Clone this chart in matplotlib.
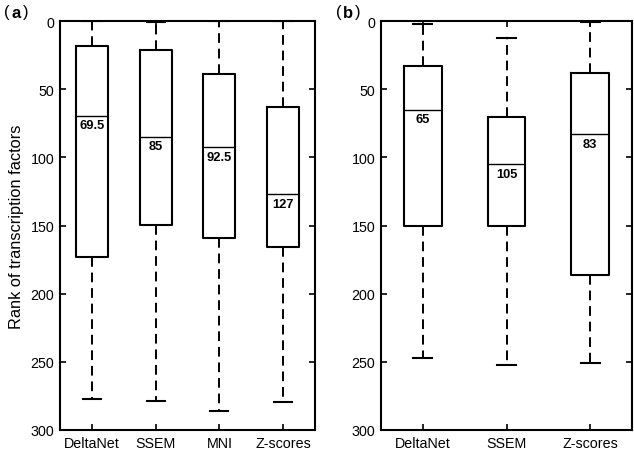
import matplotlib.pyplot as plt

plt.rcParams["font.family"] = ["Liberation Sans", "DejaVu Sans"]

# Panel (a)
labels_a = ["DeltaNet", "SSEM", "MNI", "Z-scores"]
whislo_a = [0, 1, 0, 0]
q1_a = [18.5, 21, 39, 63]
med_a = [69.5, 85, 92.5, 127]
q3_a = [173, 149.5, 159, 166]
whishi_a = [277, 278.5, 286, 279.5]

# Panel (b)
labels_b = ["DeltaNet", "SSEM", "Z-scores"]
whislo_b = [2, 12.5, 0.5]
q1_b = [33, 70.5, 38]
med_b = [65, 105, 83]
q3_b = [150, 150, 186]
whishi_b = [247, 252, 251]


def draw(ax, labels, lo, q1, med, q3, hi, width, capw):
    stats = [dict(whislo=a, q1=b, med=c, q3=d, whishi=e, fliers=[], label=l)
             for l, a, b, c, d, e in zip(labels, lo, q1, med, q3, hi)]
    pos = list(range(1, len(labels) + 1))
    ax.bxp(stats, positions=pos, widths=width, capwidths=capw,
           showfliers=False,
           boxprops=dict(color="black", linewidth=1.5),
           medianprops=dict(color="black", linewidth=1.0),
           whiskerprops=dict(color="black", linewidth=1.4, linestyle=(0, (5, 3))),
           capprops=dict(color="black", linewidth=1.5))
    for p, m in zip(pos, med):
        ax.text(p, m + 2.5, f"{m:g}", ha="center", va="top", fontsize=9.3,
                fontweight="bold")
    ax.set_ylim(300, 0)
    ax.set_xlim(0.5, len(labels) + 0.5)
    ax.set_yticks([0, 50, 100, 150, 200, 250, 300])
    ax.tick_params(direction="in", top=True, right=True, labelsize=10.3,
                   length=4, width=1.2, pad=4)
    for s in ax.spines.values():
        s.set_linewidth(1.5)


fig = plt.figure(figsize=(6.34, 4.56), dpi=100)
ax1 = fig.add_axes([60 / 634, 25 / 456, 255 / 634, 409 / 456])
ax2 = fig.add_axes([381 / 634, 25 / 456, 251 / 634, 409 / 456])

draw(ax1, labels_a, whislo_a, q1_a, med_a, q3_a, whishi_a, 0.5, 0.28)
draw(ax2, labels_b, whislo_b, q1_b, med_b, q3_b, whishi_b, 0.45, 0.23)

ax1.set_ylabel("Rank of transcription factors", fontsize=11.8, labelpad=5)

y_lab = 1 - 13 / 456
fig.text(4 / 634, y_lab, "(", fontsize=12, va="center")
fig.text(11 / 634, y_lab, "a", fontsize=12, va="center", fontweight="bold")
fig.text(23 / 634, y_lab, ")", fontsize=12, va="center")
fig.text(336 / 634, y_lab, "(", fontsize=12, va="center")
fig.text(343 / 634, y_lab, "b", fontsize=12, va="center", fontweight="bold")
fig.text(355 / 634, y_lab, ")", fontsize=12, va="center")

fig.savefig("out.png", dpi=100)
